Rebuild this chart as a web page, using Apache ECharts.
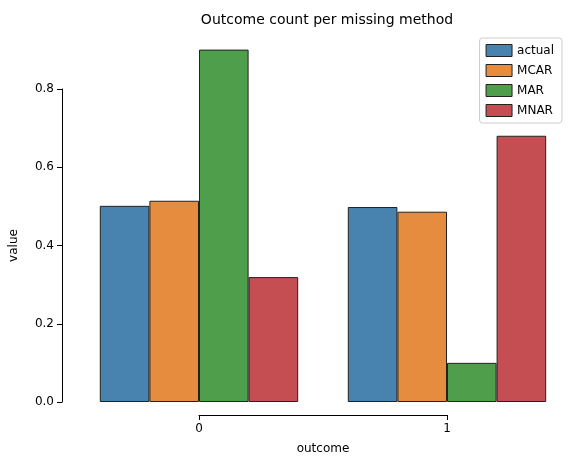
<!DOCTYPE html><html><head><meta charset="utf-8"><script src="https://cdn.jsdelivr.net/npm/echarts@6/dist/echarts.min.js"></script></head><body style="margin:0"><div id="c" style="width:581px;height:469px"></div><script>
var categories=['0','1'];
var seriesNames=['actual','MCAR','MAR','MNAR'];
var actual=[0.501,0.498];
var MCAR=[0.514,0.486];
var MAR=[0.900,0.100];
var MNAR=[0.319,0.680];
var yTicks=[0,0.2,0.4,0.6,0.8];
var colors=['#4882ae','#e68c3f','#4f9e4b','#c44e52'];
var data=[actual,MCAR,MAR,MNAR];
var ch=echarts.init(document.getElementById('c'));
var F='DejaVu Sans';
ch.setOption({
 animation:false,
 textStyle:{fontFamily:F},
 title:{text:'Outcome count per missing method',left:322,top:8,textAlign:'center',textStyle:{fontSize:14,fontWeight:'normal',color:'#000',fontFamily:F}},
 legend:{right:19,top:38,orient:'vertical',icon:'rect',itemWidth:26,itemHeight:12,itemGap:7,borderColor:'#ccc',borderWidth:1,borderRadius:3,padding:[6,8,6,6],textStyle:{fontSize:12,color:'#000'},itemStyle:{borderWidth:1,borderColor:'#222'},data:seriesNames},
 grid:[{left:75,right:10,top:32,bottom:67},{left:62,width:1,top:89,bottom:67},{left:199,right:134,top:100,bottom:54}],
 xAxis:[{type:'category',data:categories,gridIndex:0,show:false},
  {type:'value',gridIndex:1,show:false},
  {type:'value',gridIndex:2,min:0,max:1,interval:1,name:'outcome',nameLocation:'middle',nameGap:28,nameTextStyle:{color:'#000',fontSize:12},
   axisLine:{lineStyle:{color:'#000'}},axisTick:{length:5,lineStyle:{color:'#000'}},axisLabel:{color:'#000',fontSize:12,formatter:function(v){return v===0?'0':'1';}},splitLine:{show:false}}],
 yAxis:[{type:'value',gridIndex:0,min:0,max:0.945,show:false},
  {type:'value',gridIndex:1,min:0,max:0.8,interval:0.2,name:'value',nameLocation:'middle',nameGap:42,nameTextStyle:{color:'#000',fontSize:12},
   axisLine:{show:true,lineStyle:{color:'#000'}},axisTick:{show:true,length:5,lineStyle:{color:'#000'}},axisLabel:{color:'#000',fontSize:12,formatter:function(v){return v.toFixed(1);}},splitLine:{show:false}},
  {type:'value',gridIndex:2,show:false}],
 series:seriesNames.map(function(n,i){return {name:n,type:'bar',xAxisIndex:0,yAxisIndex:0,data:data[i],barGap:'0%',barCategoryGap:'20%',itemStyle:{color:colors[i],borderColor:'#222',borderWidth:1}};})
});
</script></body></html>
